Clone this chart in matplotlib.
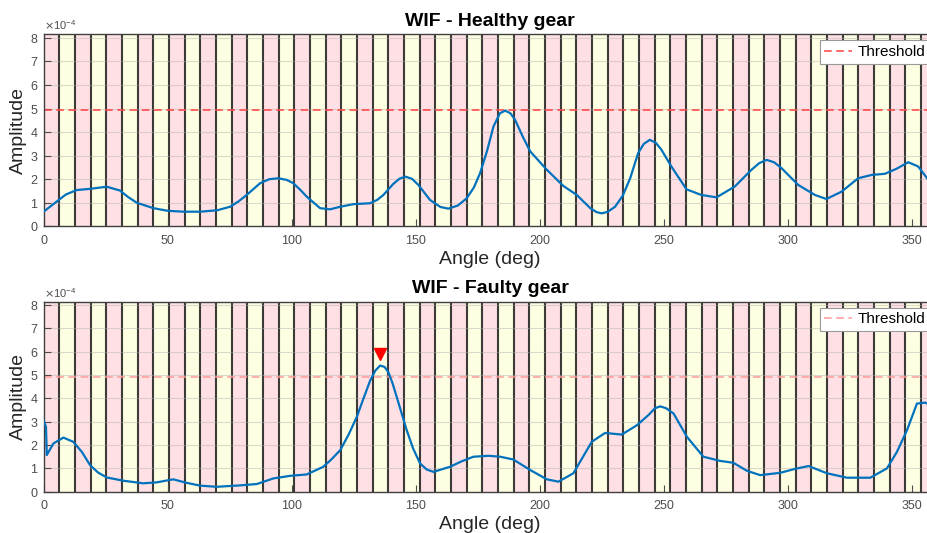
import numpy as np
import matplotlib
matplotlib.use('Agg')
import matplotlib.pyplot as plt
from matplotlib.ticker import ScalarFormatter

plt.rcParams['font.family'] = ['Liberation Sans', 'DejaVu Sans']

# data (amplitudes in units of 1e-4)
healthy_angle = [0, 5.3, 9, 13.4, 18.7, 25.5, 30.8, 34, 37.6, 44.3,
                 50, 56.4, 63.1, 70, 75.2, 78.5, 81.9, 87.3, 91, 94.7, 98, 100.7,
                 103.5, 106.1, 111.5, 115.5, 119.6, 124.9, 131.7, 134.5, 137, 141,
                 143.5, 145.8, 148.5, 151.1, 155.8, 160, 163.2, 167, 170.6, 173.5, 176, 178.8,
                 181.4, 184, 186.1, 188.2, 190.1, 193, 196.2, 202.9, 209.6, 215,
                 220.4, 223, 225.1, 227.5, 230.4, 233.5, 236.5, 239.7, 242, 244.4, 246.8, 249.1, 253.1, 259.2,
                 265.2, 271.3, 278.7, 285.4, 288.5, 291.5, 294.5, 297.5, 304.2, 311, 315.6, 321.7,
                 328.4, 333.8, 339.2, 344, 348.6, 352.6, 356.7, 360]
healthy_amp = [0.62, 1.05, 1.35, 1.54, 1.59, 1.68, 1.52, 1.25, 1.0, 0.77,
               0.66, 0.62, 0.62, 0.68, 0.83, 1.05, 1.33, 1.83, 2.0, 2.04, 1.97, 1.83,
               1.55, 1.26, 0.77, 0.72, 0.83, 0.94, 0.98, 1.12, 1.33, 1.8,
               2.02, 2.11, 2.02, 1.76, 1.12, 0.82, 0.75, 0.88, 1.19, 1.65, 2.26, 3.2,
               4.24, 4.8, 4.91, 4.8, 4.52, 3.85, 3.18, 2.40, 1.71, 1.33,
               0.77, 0.6, 0.55, 0.62, 0.83, 1.3, 2.04, 3.11, 3.5, 3.67, 3.55, 3.25, 2.54, 1.57,
               1.33, 1.23, 1.69, 2.40, 2.68, 2.82, 2.72, 2.47, 1.76, 1.33, 1.16, 1.47,
               2.04, 2.18, 2.23, 2.45, 2.72, 2.54, 1.97, 1.6]

faulty_angle = [0, 1.0, 1.3, 4, 8, 12, 15.5, 18.75, 22, 25.5,
                32.2, 40.2, 45.6, 52.3, 57.7, 63.1, 69.8, 79.2, 86, 92.7,
                99.4, 106.1, 112.8, 116, 119.6, 123, 126.3, 129, 131.7, 133.8,
                135.7, 137.5, 139, 140.7, 142.4, 144.4, 146.4, 149, 151.8, 154.5, 157.2,
                163.9, 168.5, 173.3, 179.4, 184.1, 189.4, 196.2, 202.9, 207.6, 213.6,
                217.5, 221, 226.4, 233.1, 239.2, 244, 246.5, 248.6, 251, 254, 259.4, 266,
                272.8, 278.1, 283.5, 288.9, 297, 303, 308.4, 315.8, 323.9, 333.3,
                340, 344, 348.1, 352.1, 355.4, 360]
faulty_amp = [3.06, 2.78, 1.57, 2.07, 2.32, 2.14, 1.7, 1.14, 0.82, 0.61,
              0.47, 0.36, 0.40, 0.53, 0.38, 0.26, 0.21, 0.27, 0.33, 0.57,
              0.68, 0.74, 1.07, 1.38, 1.78, 2.45, 3.21, 4.0, 4.77, 5.2,
              5.41, 5.35, 5.13, 4.65, 4.06, 3.35, 2.64, 1.85, 1.21, 0.95, 0.85,
              1.07, 1.3, 1.50, 1.54, 1.50, 1.38, 0.93, 0.53, 0.43, 0.79,
              1.5, 2.14, 2.52, 2.45, 2.85, 3.3, 3.58, 3.66, 3.58, 3.35, 2.35, 1.50,
              1.32, 1.24, 0.90, 0.71, 0.81, 0.98, 1.10, 0.79, 0.60, 0.60,
              1.0, 1.7, 2.64, 3.78, 3.82, 3.6]

threshold = 4.93
n_teeth = 57
fault_angle = 135.5
fault_marker = 5.91
scale = 1e-4


def draw_panel(ax, angle, amp, title, thr_color):
    # tooth bands
    edges = np.linspace(0, 360, n_teeth + 1)
    for k in range(n_teeth):
        c = '#ffe1e5' if k % 2 == 0 else '#fefee2'
        ax.axvspan(edges[k], edges[k + 1], color=c, lw=0, zorder=0)
    for e in edges[1:-1]:
        ax.axvline(e, color='#1a1a1a', lw=1.5, alpha=0.85, zorder=1)

    ax.plot(angle, np.array(amp) * scale, color='#0072bd', lw=1.6, zorder=3,
            solid_joinstyle='round')
    ax.axhline(threshold * scale, color=thr_color, ls=(0, (5, 3)), lw=1.1,
               zorder=2.5, label='Threshold')

    ax.set_xlim(0, 360)
    ax.set_ylim(0, 8.15e-4)
    ax.set_xticks(np.arange(0, 351, 50))
    ax.set_yticks(np.arange(0, 9) * scale)
    fmt = ScalarFormatter(useMathText=True)
    fmt.set_powerlimits((-3, 3))
    ax.yaxis.set_major_formatter(fmt)
    ax.yaxis.get_offset_text().set_fontsize(8)
    ax.yaxis.get_offset_text().set_color('#606060')

    ax.set_axisbelow('line')
    ax.grid(axis='y', color='#b0b0b0', alpha=0.45, lw=0.8)
    ax.tick_params(direction='in', colors='#4d4d4d', labelsize=9, length=5)
    ax.tick_params(axis='x', pad=6)
    for s in ax.spines.values():
        s.set_color('#404040')
        s.set_linewidth(1.0)

    ax.set_title(title, fontsize=14, fontweight='bold', pad=6)
    ax.set_xlabel('Angle (deg)', fontsize=14, color='#262626', labelpad=3)
    ax.set_ylabel('Amplitude', fontsize=14, color='#262626', labelpad=2)
    leg = ax.legend(loc='upper right', fontsize=11, fancybox=False,
                    framealpha=1, edgecolor='#999999', handlelength=1.8,
                    handletextpad=0.4, borderaxespad=0.4, borderpad=0.3)
    leg.get_frame().set_linewidth(0.8)


fig = plt.figure(figsize=(9.28, 5.33), dpi=100)
ax1 = fig.add_axes([0.0469, 0.5754, 0.9623, 0.3602])
ax2 = fig.add_axes([0.0469, 0.0775, 0.9623, 0.3565])

draw_panel(ax1, healthy_angle, healthy_amp, 'WIF - Healthy gear', '#ff4040')
draw_panel(ax2, faulty_angle, faulty_amp, 'WIF - Faulty gear', '#ff9a9a')

# fault indicator
ax2.plot(fault_angle, fault_marker * scale, 'v', color='red', markersize=9, zorder=4)

fig.savefig('out.png', dpi=100)
